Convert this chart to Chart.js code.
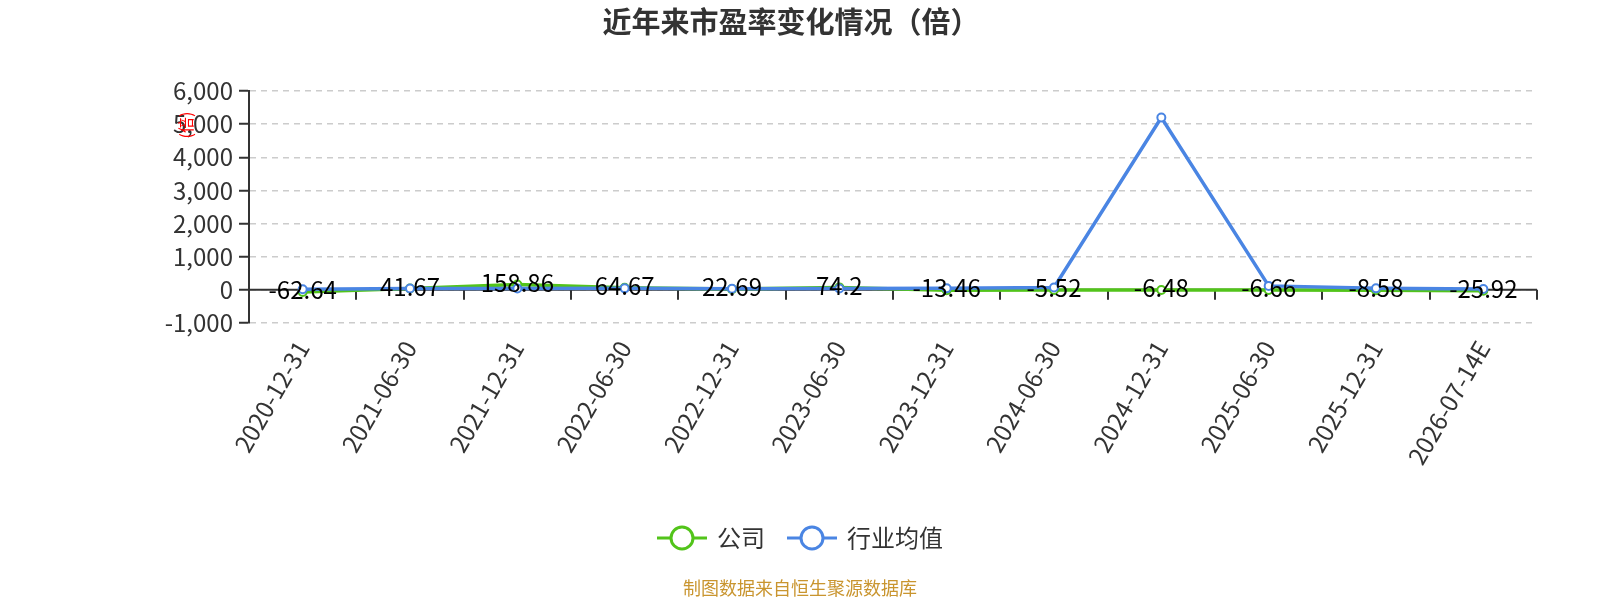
<!DOCTYPE html>
<html lang="zh">
<head>
<meta charset="utf-8">
<title>近年来市盈率变化情况（倍）</title>
<script src="https://cdn.jsdelivr.net/npm/chart.js@4.4.1/dist/chart.umd.min.js"></script>
<style>
    html, body { margin: 0; padding: 0; background: #fff; }
    #contenedor { width: 1600px; height: 600px; position: relative; }
</style>
</head>
<body>
<div id="contenedor"><canvas id="grafico-pe"></canvas></div>
<script>
// Datos del gráfico
const categorias = ['2020-12-31', '2021-06-30', '2021-12-31', '2022-06-30', '2022-12-31', '2023-06-30',
    '2023-12-31', '2024-06-30', '2024-12-31', '2025-06-30', '2025-12-31', '2026-07-14E'];
const valoresEmpresa = [-62.64, 41.67, 158.86, 64.67, 22.69, 74.2, -13.46, -5.52, -6.48, -6.66, -8.58, -25.92];
const valoresIndustria = [20, 40, 40, 45, 35, 40, 45, 70, 5200, 120, 45, 25];
const nombresSeries = ['公司', '行业均值'];
const ejeYMin = -1000;
const ejeYMax = 6000;
const ejeYPaso = 1000;

const titulo = '近年来市盈率变化情况（倍）';
const nombreEjeY = '(倍)';
const fuente = '制图数据来自恒生聚源数据库';

const FAMILIA = "'Noto Sans CJK SC', 'Open Sans', sans-serif";
const VERDE = '#52c41a';
const AZUL = '#4a85e3';

// Plugin: línea del cero con marcas, etiquetas, título, leyenda y fuente
const decoraciones = {
    id: 'decoraciones',
    beforeDatasetsDraw(chart) {
        const { ctx, chartArea, scales } = chart;
        const y0 = scales.y.getPixelForValue(0);
        const ancho = (chartArea.right - chartArea.left) / categorias.length;
        ctx.save();
        ctx.strokeStyle = '#333';
        ctx.lineWidth = 2;
        ctx.beginPath();
        ctx.moveTo(chartArea.left, y0);
        ctx.lineTo(chartArea.right, y0);
        for (let i = 1; i <= categorias.length; i++) {
            const x = Math.round(chartArea.left + i * ancho);
            ctx.moveTo(x, y0);
            ctx.lineTo(x, y0 + 10);
        }
        ctx.stroke();
        ctx.restore();
    },
    afterDatasetsDraw(chart) {
        const { ctx } = chart;
        const meta = chart.getDatasetMeta(0);
        ctx.save();
        ctx.font = '24px ' + FAMILIA;
        ctx.fillStyle = '#000';
        ctx.textAlign = 'center';
        ctx.textBaseline = 'middle';
        meta.data.forEach((p, i) => {
            ctx.fillText(String(valoresEmpresa[i]), p.x, p.y - 2);
        });
        ctx.restore();
    },
    afterDraw(chart) {
        const { ctx } = chart;
        ctx.save();
        // Título
        ctx.font = 'bold 29px ' + FAMILIA;
        ctx.fillStyle = '#333';
        ctx.textAlign = 'center';
        ctx.textBaseline = 'middle';
        ctx.fillText(titulo, 791, 22);

        // Nombre del eje Y
        ctx.save();
        ctx.translate(186, 125);
        ctx.rotate(-Math.PI / 2);
        ctx.font = '16px ' + FAMILIA;
        ctx.fillStyle = '#f00';
        ctx.fillText(nombreEjeY, 0, 0);
        ctx.restore();

        // Leyenda
        ctx.font = '24px ' + FAMILIA;
        const colores = [VERDE, AZUL];
        const simbolo = 50, hueco = 10, separacion = 22;
        const anchos = nombresSeries.map(n => ctx.measureText(n).width);
        const total = anchos.reduce((a, b) => a + b, 0) + nombresSeries.length * (simbolo + hueco) + separacion;
        let x = 800 - total / 2;
        const yl = 538;
        nombresSeries.forEach((n, i) => {
            ctx.strokeStyle = colores[i];
            ctx.lineWidth = 3;
            ctx.beginPath();
            ctx.moveTo(x, yl);
            ctx.lineTo(x + simbolo, yl);
            ctx.stroke();
            ctx.beginPath();
            ctx.arc(x + simbolo / 2, yl, 11, 0, Math.PI * 2);
            ctx.fillStyle = '#fff';
            ctx.fill();
            ctx.stroke();
            ctx.fillStyle = '#333';
            ctx.textAlign = 'left';
            ctx.fillText(n, x + simbolo + hueco, yl);
            x += simbolo + hueco + anchos[i] + separacion;
        });

        // Fuente de datos
        ctx.font = '18px ' + FAMILIA;
        ctx.fillStyle = '#c9952f';
        ctx.textAlign = 'center';
        ctx.fillText(fuente, 800, 588);
        ctx.restore();
    }
};

document.addEventListener('DOMContentLoaded', function () {
    const ctx = document.getElementById('grafico-pe');
    new Chart(ctx, {
        type: 'line',
        data: {
            labels: categorias,
            datasets: [{
                label: nombresSeries[0],
                data: valoresEmpresa,
                borderColor: VERDE,
                backgroundColor: VERDE,
                borderWidth: 3.5,
                pointRadius: 4,
                pointBorderWidth: 2,
                pointBackgroundColor: '#fff',
                pointBorderColor: VERDE,
                tension: 0,
                order: 1
            }, {
                label: nombresSeries[1],
                data: valoresIndustria,
                borderColor: AZUL,
                backgroundColor: AZUL,
                borderWidth: 3.5,
                pointRadius: 4,
                pointBorderWidth: 2,
                pointBackgroundColor: '#fff',
                pointBorderColor: AZUL,
                tension: 0,
                order: 0
            }]
        },
        options: {
            responsive: true,
            maintainAspectRatio: false,
            devicePixelRatio: 1,
            animation: false,
            layout: { padding: { top: 91, right: 63, bottom: 0, left: 0 } },
            plugins: {
                legend: { display: false },
                title: { display: false },
                tooltip: { enabled: false }
            },
            scales: {
                x: {
                    offset: true,
                    grid: { display: false },
                    border: { display: false },
                    ticks: {
                        color: '#333',
                        font: { size: 24, family: FAMILIA },
                        minRotation: 60,
                        maxRotation: 60,
                        autoSkip: false,
                        padding: 5
                    },
                    afterFit(scale) { scale.height = 277; }
                },
                y: {
                    min: ejeYMin,
                    max: ejeYMax,
                    ticks: {
                        stepSize: ejeYPaso,
                        color: '#333',
                        font: { size: 24, family: FAMILIA },
                        padding: 6
                    },
                    grid: {
                        color: '#ccc',
                        lineWidth: 1.5,
                        tickColor: '#333',
                        tickLength: 10,
                        tickWidth: 2
                    },
                    border: { color: '#333', width: 2, dash: [6, 5] },
                    afterFit(scale) { scale.width = 249; }
                }
            }
        },
        plugins: [decoraciones]
    });
});
</script>
</body>
</html>
